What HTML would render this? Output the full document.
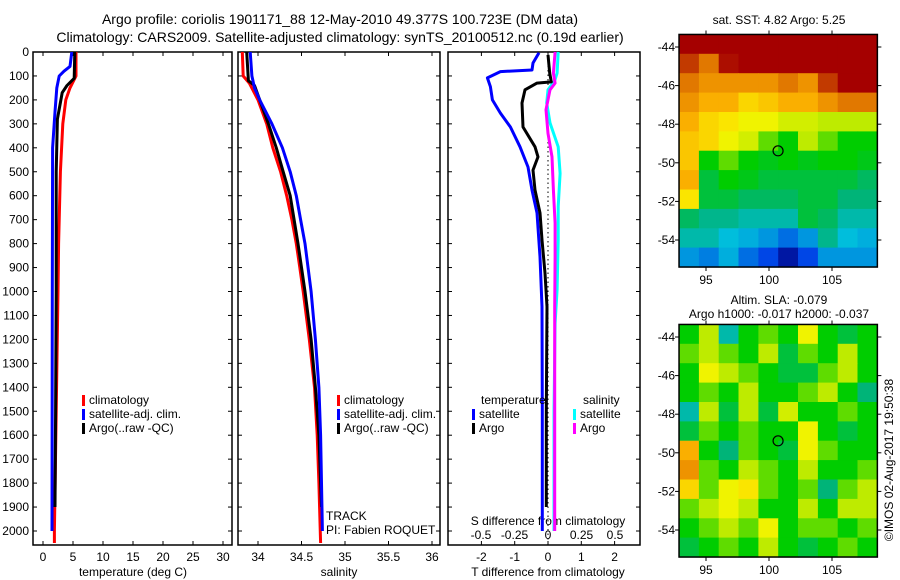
<!DOCTYPE html>
<html><head><meta charset="utf-8"><style>
html,body{margin:0;padding:0;background:#fff;}
svg{display:block;font-family:"Liberation Sans",sans-serif;}
</style></head><body>
<svg id="c" width="900" height="580" xmlns="http://www.w3.org/2000/svg"></svg>
<script>
// ---------- data ----------
const depthTicks=[0,100,200,300,400,500,600,700,800,900,1000,1100,1200,1300,1400,1500,1600,1700,1800,1900,2000];
const tempTicks=[0,5,10,15,20,25,30];
const salTicks=[34,34.5,35,35.5,36];
const tdiffTicks=[-2,-1,0,1,2];
const sdiffTicks=[-0.5,-0.25,0,0.25,0.5];
const lonTicks=[95,100,105];
const latTicks=[-44,-46,-48,-50,-52,-54];

const tClimD=[0,100,150,200,300,500,800,1000,1500,2000,2050];
const tClimV=[5.5,5.5,4.5,3.8,3.3,2.9,2.6,2.5,2.2,1.9,1.9];
const tSatD=[0,60,80,100,150,250,400,1000,2000];
const tSatV=[4.8,4.5,3.5,2.7,2.3,2.0,1.6,1.55,1.5];
const tArgoD=[0,110,140,170,280,500,1000,1500,1900];
const tArgoV=[5.3,5.2,4.0,3.2,2.4,2.2,2.2,2.1,2.0];

const sClimD=[0,100,130,200,300,400,500,600,700,800,900,1000,1200,1400,1600,1800,2050];
const sClimV=[33.82,33.83,33.9,34.0,34.1,34.17,34.26,34.33,34.39,34.44,34.48,34.52,34.59,34.65,34.68,34.7,34.72];
const sSatD=[0,100,150,200,300,400,500,600,700,800,1000,1200,1400,1600,2000];
const sSatV=[33.91,33.93,33.96,34.02,34.16,34.28,34.37,34.44,34.49,34.54,34.61,34.66,34.7,34.72,34.74];
const sArgoD=[0,120,140,200,300,400,500,600,800,1000,1200,1400,1600,1900];
const sArgoV=[33.87,33.89,33.96,34.02,34.12,34.21,34.29,34.37,34.46,34.54,34.61,34.66,34.7,34.73];

const dtSatD=[3,46,75,82,108,145,200,255,313,396,480,576,672,855,1064,1500,2000];
const dtSatV=[-0.27,-0.45,-0.48,-1.43,-1.82,-1.73,-1.67,-1.43,-1.13,-0.84,-0.6,-0.48,-0.33,-0.24,-0.18,-0.17,-0.17];
const dtArgoD=[12,88,125,130,158,213,313,396,438,493,576,672,785,923,1064,1500,1900];
const dtArgoV=[0,0.05,0.1,-0.33,-0.69,-0.78,-0.75,-0.39,-0.3,-0.45,-0.39,-0.24,-0.18,-0.09,-0.03,-0.05,-0.05];
const dsSatD=[0,88,120,158,213,296,396,507,646,785,993,1132,1500,2000];
const dsSatV=[0.076,0.068,0.05,0,-0.01,0.015,0.076,0.09,0.076,0.076,0.068,0.053,0.045,0.045];
const dsArgoD=[0,88,130,158,241,340,438,576,715,855,1064,1500,2000];
const dsArgoV=[0.053,0.04,0.053,0.015,-0.015,0,0.03,0.04,0.053,0.053,0.05,0.05,0.05];

const sstGrid=[
[1,1,1,1,1,1,1,1,1,1],
[.9,.85,.95,1,1,1,1,1,1,1],
[.85,.8,.8,.8,.8,.85,.8,.9,1,1],
[.8,.75,.75,.7,.72,.75,.75,.8,.85,.85],
[.75,.7,.68,.65,.65,.62,.62,.6,.6,.6],
[.72,.7,.65,.62,.55,.5,.6,.55,.5,.5],
[.72,.5,.55,.5,.48,.5,.48,.5,.5,.48],
[.75,.45,.5,.48,.45,.45,.45,.45,.45,.42],
[.68,.45,.45,.42,.42,.42,.45,.45,.4,.4],
[.42,.38,.38,.35,.35,.35,.45,.42,.35,.35],
[.35,.35,.3,.28,.25,.2,.25,.38,.3,.28],
[.25,.22,.28,.2,.15,.05,.15,.25,.25,.25]];
const slaGrid=[
[.5,.6,.35,.5,.55,.5,.65,.5,.45,.5],
[.55,.6,.55,.5,.6,.45,.55,.5,.6,.5],
[.5,.65,.6,.55,.5,.45,.45,.55,.6,.5],
[.5,.55,.5,.6,.5,.5,.55,.6,.5,.4],
[.35,.6,.45,.6,.45,.62,.5,.5,.55,.5],
[.45,.55,.5,.55,.5,.5,.65,.5,.45,.5],
[.75,.5,.4,.55,.5,.45,.65,.55,.5,.5],
[.8,.55,.5,.6,.55,.5,.6,.5,.5,.55],
[.7,.55,.65,.68,.55,.5,.55,.4,.55,.6],
[.55,.6,.65,.6,.5,.5,.6,.5,.6,.6],
[.5,.55,.6,.55,.65,.5,.55,.55,.5,.55],
[.45,.5,.55,.5,.6,.5,.45,.5,.55,.5]];
const argoLon=100.72, argoLat=-49.38;

// ---------- helpers ----------
const svg=document.getElementById('c');
const NS='http://www.w3.org/2000/svg';
function mk(tag,attrs,parent){const e=document.createElementNS(NS,tag);for(const k in attrs)e.setAttribute(k,attrs[k]);(parent||svg).appendChild(e);return e;}
function txt(x,y,s,anchor,size,name){const t=mk('text',{x:x,y:y,'text-anchor':anchor||'start','font-size':size||12,fill:'#000'});t.textContent=s;

return t;}
const yD=d=>52+d*0.2395;
const xT=v=>43+v*6;
const xS=v=>258+(v-34)*87;
const xDT=v=>548+v*33.3;
const xDS=v=>548+v*134;
const mLon=v=>706+(v-95)*12.6;
const mLat1=v=>47+(-44-v)*19.3;
const mLat2=v=>337+(-44-v)*19.3;

function stepLine(D,V,fx,color,name,w){
  let p='';for(let i=0;i<D.length;i++){const x=fx(V[i]).toFixed(1),y=yD(D[i]).toFixed(1);p+=(i?'L':'M')+x+','+y;}
  const l=mk('path',{d:p,fill:'none',stroke:color,'stroke-width':w||3,'stroke-linejoin':'round'});
  
  
}
function box(x0,x1,y0,y1,name){const r=mk('rect',{x:x0,y:y0,width:x1-x0,height:y1-y0,fill:'none',stroke:'#000','stroke-width':1.5});

}

// titles
txt(340,24,'Argo profile: coriolis 1901171_88 12-May-2010 49.377S 100.723E (DM data)','middle',14,'title-line-1');
txt(340,42,'Climatology: CARS2009. Satellite-adjusted climatology: synTS_20100512.nc (0.19d earlier)','middle',14,'title-line-2');

// panel frames
const panels=[[33,232],[238,440],[448,640]];
panels.forEach((p,i)=>{box(p[0],p[1],52,545,'panel-'+(i+1)+'-frame');
 depthTicks.forEach(d=>{mk('line',{x1:p[0],x2:p[0]+4,y1:yD(d),y2:yD(d),stroke:'#000'});mk('line',{x1:p[1],x2:p[1]-4,y1:yD(d),y2:yD(d),stroke:'#000'});});});
depthTicks.forEach(d=>txt(29,yD(d)+4,String(d),'end',12,'depth-tick-label'));

function xticks(ticks,fx,name){ticks.forEach(v=>{const x=fx(v);mk('line',{x1:x,x2:x,y1:545,y2:541,stroke:'#000'});mk('line',{x1:x,x2:x,y1:52,y2:56,stroke:'#000'});txt(x,561,String(v),'middle',12,name);});}
xticks(tempTicks,xT,'temp-tick-label');
xticks(salTicks,xS,'sal-tick-label');
xticks(tdiffTicks,xDT,'tdiff-tick-label');
sdiffTicks.forEach(v=>txt(xDS(v),539,String(v),'middle',12,'sdiff-tick-label'));
txt(133,576,'temperature (deg C)','middle',12,'x-axis-title-temperature');
txt(339,576,'salinity','middle',12,'x-axis-title-salinity');
txt(548,576,'T difference from climatology','middle',12,'x-axis-title-tdiff');
txt(548,525,'S difference from climatology','middle',12,'x-axis-title-sdiff');

// panel 1
stepLine(tClimD,tClimV,xT,'#f00','temp-climatology-line');
stepLine(tSatD,tSatV,xT,'#00f','temp-satellite-line');
stepLine(tArgoD,tArgoV,xT,'#000','temp-argo-line');
// panel 2
stepLine(sClimD,sClimV,xS,'#f00','sal-climatology-line');
stepLine(sArgoD,sArgoV,xS,'#000','sal-argo-line');
stepLine(sSatD,sSatV,xS,'#00f','sal-satellite-line');
// panel 3
mk('line',{x1:548,x2:548,y1:52,y2:545,stroke:'#000','stroke-dasharray':'1.5,3'});
stepLine(dsSatD,dsSatV,xDS,'#0ff','sdiff-satellite-line');
stepLine(dsArgoD,dsArgoV,xDS,'#f0f','sdiff-argo-line');
stepLine(dtSatD,dtSatV,xDT,'#00f','tdiff-satellite-line');
stepLine(dtArgoD,dtArgoV,xDT,'#000','tdiff-argo-line');

// legends
function legend(x,y,items,prefix){items.forEach((it,i)=>{const r=mk('rect',{x:x,y:y+i*14-9,width:3,height:11,fill:it[1]});


txt(x+7,y+i*14,it[0],'start',12,prefix+'-entry');});}
const leg=[['climatology','#f00'],['satellite-adj. clim.','#00f'],['Argo(..raw -QC)','#000']];
legend(82,404,leg,'temp-legend');
legend(337,404,leg,'sal-legend');
txt(481,404,'temperature','start',12,'legend-heading-temperature');
txt(583,404,'salinity','start',12,'legend-heading-salinity');
legend(472,418,[['satellite','#00f'],['Argo','#000']],'tdiff-legend');
legend(573,418,[['satellite','#0ff'],['Argo','#f0f']],'sdiff-legend');
txt(326,520,'TRACK','start',12,'track-label');
txt(326,534,'PI: Fabien ROQUET','start',12,'pi-label');

// maps
const cmapStops=[[0,[0,0,130]],[0.15,[0,70,230]],[0.3,[0,190,220]],[0.4,[0,180,120]],[0.5,[0,205,0]],[0.6,[190,235,0]],[0.66,[250,245,0]],[0.75,[250,175,0]],[0.85,[225,120,0]],[0.93,[175,20,0]],[1,[165,0,0]]];
function cmap(v){for(let i=1;i<cmapStops.length;i++){if(v<=cmapStops[i][0]){const a=cmapStops[i-1],b=cmapStops[i],t=(v-a[0])/(b[0]-a[0]);return 'rgb('+a[1].map((c,k)=>Math.round(c+(b[1][k]-c)*t)).join(',')+')';}}return 'rgb(165,0,0)';}
function map(grid,fLat,latTop,latBot,name){
 const lon0=92.86,lon1=108.6,nr=grid.length,nc=grid[0].length;
 const g=mk('g',{});
 for(let r=0;r<nr;r++)for(let c=0;c<nc;c++){
  const la=latTop+(latBot-latTop)*r/nr, lb=latTop+(latBot-latTop)*(r+1)/nr;
  const a=lon0+(lon1-lon0)*c/nc, b=lon0+(lon1-lon0)*(c+1)/nc;
  const x=mLon(a),y=fLat(la);
  const cell=mk('rect',{x:x.toFixed(1),y:y.toFixed(1),width:(mLon(b)-x+0.6).toFixed(1),height:(fLat(lb)-y+0.6).toFixed(1),fill:cmap(grid[r][c])},g);
  
  
 }
 const x0=mLon(lon0),x1=mLon(lon1),y0=fLat(latTop),y1=fLat(latBot);
 box(x0,x1,y0,y1,name+'-frame');
 lonTicks.forEach(v=>{mk('line',{x1:mLon(v),x2:mLon(v),y1:y0,y2:y0-4,stroke:'#000'});mk('line',{x1:mLon(v),x2:mLon(v),y1:y1,y2:y1+4,stroke:'#000'});txt(mLon(v),y1+17,String(v),'middle',12,name+'-lon-label');});
 latTicks.forEach(v=>{mk('line',{x1:x0,x2:x0-4,y1:fLat(v),y2:fLat(v),stroke:'#000'});mk('line',{x1:x1,x2:x1+4,y1:fLat(v),y2:fLat(v),stroke:'#000'});txt(x0-4,fLat(v)+4,String(v),'end',12,name+'-lat-label');});
 const ci=mk('circle',{cx:mLon(argoLon),cy:fLat(argoLat),r:5,fill:'none',stroke:'#000','stroke-width':1.2});
 
 
}
map(sstGrid,mLat1,-43.35,-55.4,'sst-map');
map(slaGrid,mLat2,-43.35,-55.4,'sla-map');
txt(779,24,'sat. SST: 4.82  Argo: 5.25','middle',12,'sst-map-title');
txt(779,304,'Altim. SLA: -0.079','middle',12,'sla-map-title-1');
txt(779,318,'Argo h1000: -0.017 h2000: -0.037','middle',12,'sla-map-title-2');
const cr=txt(0,0,'©IMOS 02-Aug-2017 19:50:38','middle',12,'copyright-label');
cr.setAttribute('transform','translate(893,460) rotate(-90)');
</script>
</body></html>
